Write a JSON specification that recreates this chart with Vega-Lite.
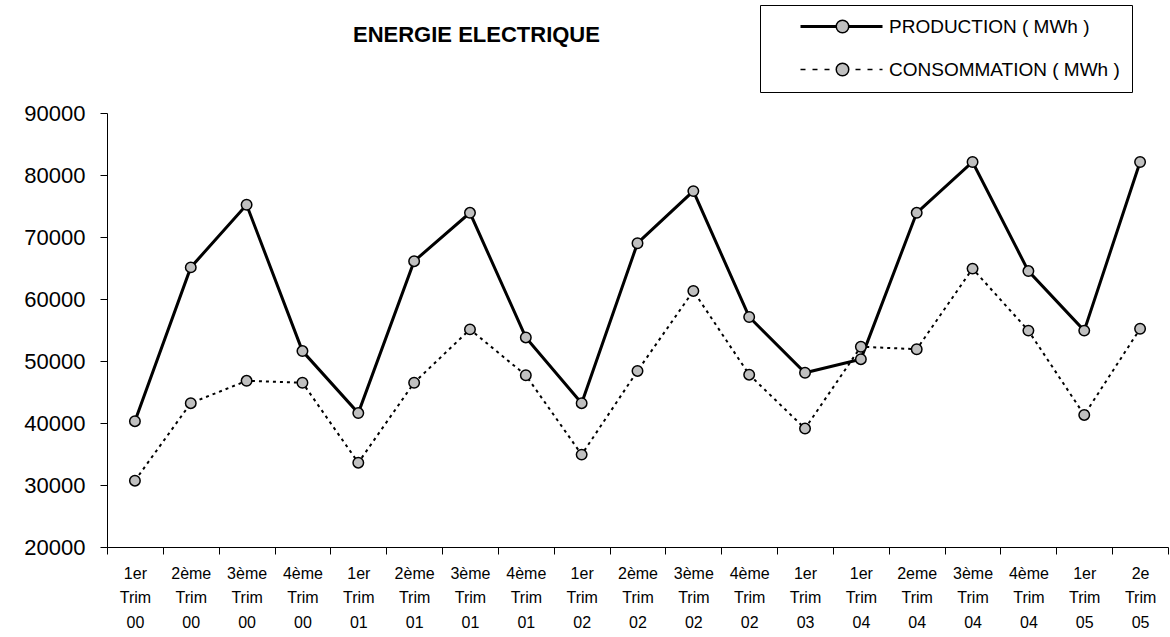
{
  "$schema": "https://vega.github.io/schema/vega-lite/v6.json",
  "width": 1061,
  "height": 434,
  "autosize": {"type": "none"},
  "padding": {"left": 107, "top": 113, "right": 2, "bottom": 90},
  "background": "white",
  "config": {"font": "Liberation Sans", "view": {"stroke": null}},
  "title": {
    "text": "ENERGIE ELECTRIQUE",
    "fontSize": 22,
    "fontWeight": "bold",
    "color": "black",
    "font": "Liberation Sans",
    "anchor": "start",
    "frame": "group",
    "dx": 246,
    "offset": -59,
    "baseline": "alphabetic"
  },
  "data": {
    "values": [
      {"periode": "1er Trim 00", "serie": "PRODUCTION ( MWh )", "valeur": 40300},
      {"periode": "2ème Trim 00", "serie": "PRODUCTION ( MWh )", "valeur": 65100},
      {"periode": "3ème Trim 00", "serie": "PRODUCTION ( MWh )", "valeur": 75200},
      {"periode": "4ème Trim 00", "serie": "PRODUCTION ( MWh )", "valeur": 51600},
      {"periode": "1er Trim 01", "serie": "PRODUCTION ( MWh )", "valeur": 41600},
      {"periode": "2ème Trim 01", "serie": "PRODUCTION ( MWh )", "valeur": 66100},
      {"periode": "3ème Trim 01", "serie": "PRODUCTION ( MWh )", "valeur": 73900},
      {"periode": "4ème Trim 01", "serie": "PRODUCTION ( MWh )", "valeur": 53800},
      {"periode": "1er Trim 02", "serie": "PRODUCTION ( MWh )", "valeur": 43200},
      {"periode": "2ème Trim 02", "serie": "PRODUCTION ( MWh )", "valeur": 69000},
      {"periode": "3ème Trim 02", "serie": "PRODUCTION ( MWh )", "valeur": 77400},
      {"periode": "4ème Trim 02", "serie": "PRODUCTION ( MWh )", "valeur": 57100},
      {"periode": "1er Trim 03", "serie": "PRODUCTION ( MWh )", "valeur": 48100},
      {"periode": "1er Trim 04", "serie": "PRODUCTION ( MWh )", "valeur": 50300},
      {"periode": "2eme Trim 04", "serie": "PRODUCTION ( MWh )", "valeur": 73900},
      {"periode": "3ème Trim 04", "serie": "PRODUCTION ( MWh )", "valeur": 82100},
      {"periode": "4ème Trim 04", "serie": "PRODUCTION ( MWh )", "valeur": 64500},
      {"periode": "1er Trim 05", "serie": "PRODUCTION ( MWh )", "valeur": 54900},
      {"periode": "2e Trim 05", "serie": "PRODUCTION ( MWh )", "valeur": 82100},
      {"periode": "1er Trim 00", "serie": "CONSOMMATION ( MWh )", "valeur": 30700},
      {"periode": "2ème Trim 00", "serie": "CONSOMMATION ( MWh )", "valeur": 43200},
      {"periode": "3ème Trim 00", "serie": "CONSOMMATION ( MWh )", "valeur": 46800},
      {"periode": "4ème Trim 00", "serie": "CONSOMMATION ( MWh )", "valeur": 46500},
      {"periode": "1er Trim 01", "serie": "CONSOMMATION ( MWh )", "valeur": 33600},
      {"periode": "2ème Trim 01", "serie": "CONSOMMATION ( MWh )", "valeur": 46500},
      {"periode": "3ème Trim 01", "serie": "CONSOMMATION ( MWh )", "valeur": 55100},
      {"periode": "4ème Trim 01", "serie": "CONSOMMATION ( MWh )", "valeur": 47700},
      {"periode": "1er Trim 02", "serie": "CONSOMMATION ( MWh )", "valeur": 34900},
      {"periode": "2ème Trim 02", "serie": "CONSOMMATION ( MWh )", "valeur": 48400},
      {"periode": "3ème Trim 02", "serie": "CONSOMMATION ( MWh )", "valeur": 61300},
      {"periode": "4ème Trim 02", "serie": "CONSOMMATION ( MWh )", "valeur": 47800},
      {"periode": "1er Trim 03", "serie": "CONSOMMATION ( MWh )", "valeur": 39100},
      {"periode": "1er Trim 04", "serie": "CONSOMMATION ( MWh )", "valeur": 52300},
      {"periode": "2eme Trim 04", "serie": "CONSOMMATION ( MWh )", "valeur": 51900},
      {"periode": "3ème Trim 04", "serie": "CONSOMMATION ( MWh )", "valeur": 64900},
      {"periode": "4ème Trim 04", "serie": "CONSOMMATION ( MWh )", "valeur": 54900},
      {"periode": "1er Trim 05", "serie": "CONSOMMATION ( MWh )", "valeur": 41300},
      {"periode": "2e Trim 05", "serie": "CONSOMMATION ( MWh )", "valeur": 55200}
    ]
  },
  "encoding": {
    "x": {
      "field": "periode",
      "type": "nominal",
      "sort": null,
      "bandPosition": 0.5,
      "scale": {"type": "band", "paddingInner": 0, "paddingOuter": 0},
      "axis": {
        "title": null,
        "labelExpr": "split(datum.label, ' ')",
        "labelAngle": 0,
        "labelFontSize": 16,
        "labelLineHeight": 24.5,
        "labelColor": "black",
        "labelFont": "Liberation Sans",
        "labelPadding": 11,
        "labelBaseline": "top",
        "labelOverlap": false,
        "labelBound": false,
        "labelFlush": false,
        "tickBand": "extent",
        "tickSize": 7,
        "tickColor": "black",
        "tickWidth": 1,
        "domainColor": "black",
        "domainWidth": 1,
        "grid": false
      }
    },
    "y": {
      "field": "valeur",
      "type": "quantitative",
      "scale": {"domain": [20000, 90000], "nice": false, "zero": false},
      "axis": {
        "title": null,
        "values": [20000, 30000, 40000, 50000, 60000, 70000, 80000, 90000],
        "format": "d",
        "labelFontSize": 22,
        "labelColor": "black",
        "labelFont": "Liberation Sans",
        "labelPadding": 15,
        "tickSize": 7,
        "tickColor": "black",
        "tickWidth": 1,
        "domainColor": "black",
        "domainWidth": 1,
        "grid": false
      }
    }
  },
  "layer": [
    {
      "transform": [{"filter": "datum.serie === 'PRODUCTION ( MWh )'"}],
      "mark": {"type": "line", "strokeCap": "butt", "strokeWidth": 3},
      "encoding": {
        "color": {
          "field": "serie",
          "type": "nominal",
          "sort": ["PRODUCTION ( MWh )", "CONSOMMATION ( MWh )"],
          "scale": {"domain": ["PRODUCTION ( MWh )", "CONSOMMATION ( MWh )"], "range": ["black", "black"]},
          "legend": {
            "title": null,
            "orient": "none",
            "legendX": 653,
            "legendY": -108,
            "strokeColor": "black",
            "fillColor": "white",
            "cornerRadius": 0,
            "padding": 12,
            "rowPadding": 23,
            "labelFontSize": 19,
            "labelColor": "black",
            "labelFont": "Liberation Sans",
            "labelLimit": 0,
            "labelExpr": "datum.label + '\u00a0\u00a0\u00a0\u00a0\u00a0\u00a0\u00a0\u00a0\u00a0\u00a0\u00a0\u00a0\u00a0'",
            "symbolType": {"expr": "datum.value === 'PRODUCTION ( MWh )' ? 'M-8.4,-0.15H-1.25M-8.4,0.15H-1.25M1.25,-0.15H8M1.25,0.15H8M1.25,0A1.25,1.25,0,1,1,-1.25,0A1.25,1.25,0,1,1,1.25,0Z' : 'M-8.4,0H-7.4M-6,0H-5M-3.6,0H-2.6M2.6,0H3.6M5,0H6M7.4,0H8M1.25,0A1.25,1.25,0,1,1,-1.25,0A1.25,1.25,0,1,1,1.25,0Z'"},
            "symbolSize": 100,
            "symbolStrokeWidth": 1.5,
            "symbolStrokeColor": "black",
            "symbolFillColor": "#C0C0C0",
            "symbolOffset": 61,
            "labelOffset": 37
          }
        }
      }
    },
    {
      "transform": [{"filter": "datum.serie === 'CONSOMMATION ( MWh )'"}],
      "mark": {"type": "line", "strokeCap": "butt", "strokeWidth": 2, "strokeDash": [3, 4]},
      "encoding": {
        "color": {"field": "serie", "type": "nominal"}
      }
    },
    {
      "mark": {"type": "point", "filled": true, "fill": "#C0C0C0", "stroke": "black", "strokeWidth": 1.5, "size": 110, "opacity": 1, "fillOpacity": 1},
      "encoding": {"detail": {"field": "serie", "type": "nominal"}}
    }
  ]
}
